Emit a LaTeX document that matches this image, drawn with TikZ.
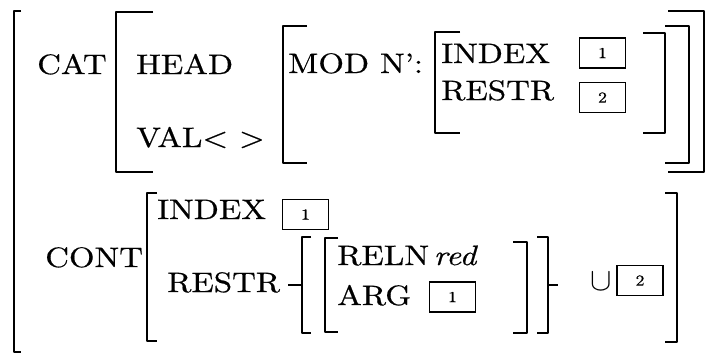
\documentclass[tikz,border=0pt]{standalone}
\usepackage{fontspec}
\setmainfont{lmroman10-regular}[Extension=.otf, ItalicFont=lmroman10-italic, FakeStretch=1.17, FakeBold=0.6]

\begin{document}
\begin{tikzpicture}[
  x=0.03cm, y=-0.03cm,
  brk/.style={line width=1.3pt, line join=round},
  lbl/.style={anchor=base west, inner sep=0pt, font=\fontsize{24}{28}\selectfont},
  tag/.style={draw, line width=1.1pt, minimum width=1.38cm, minimum height=0.9cm, inner sep=0pt, font=\fontsize{13}{15}\selectfont}
]
\useasboundingbox (0,0) rectangle (707,360);

\node[lbl] (cat) at (37,74) {CAT};
\node[lbl] (head) at (136,74) {HEAD};
\node[lbl] (val) at (136,147) {VAL< >};
\node[lbl] (mod) at (288,73) {MOD N':};
\node[lbl] (modidx) at (441,63) {INDEX};
\node[lbl] (modres) at (441,100) {RESTR};
\node[tag] (tagA) at (602.5,53) {1};
\node[tag] (tagB) at (602.5,97.5) {2};

\node[lbl] (cont) at (45,267) {CONT};
\node[lbl] (idx) at (157,219) {INDEX};
\node[tag] (tagC) at (305.5,214.5) {1};
\node[lbl] (res) at (167,292) {RESTR};
\node[lbl] (reln) at (337,265) {RELN\,\textit{red}};
\node[lbl] (arg) at (337,305) {ARG};
\node[tag] (tagD) at (452.5,297) {1};
\node[lbl, anchor=center] (union) at (601,282) {\scalebox{1.1}{$\cup$}};
\node[tag] (tagE) at (640,280.5) {2};

\draw[brk] (21,11) -- (14,11) -- (14,352) -- (21,352);
\draw[brk] (668,11) -- (704,11) -- (704,172) -- (668,172);
\draw[brk] (153,12) -- (116,12) -- (116,172) -- (153,172);
\draw[brk] (665,26) -- (689,26) -- (689,163) -- (665,163);
\draw[brk] (307,26) -- (283,26) -- (283,163) -- (307,163);
\draw[brk] (460,32) -- (435,32) -- (435,133) -- (460,133);
\draw[brk] (643,33) -- (665,33) -- (665,133) -- (643,133);

\draw[brk] (157,193) -- (147,193) -- (147,341) -- (157,341);
\draw[brk] (665,193) -- (677,193) -- (677,342) -- (665,342);
\draw[brk] (311,237) -- (302,237) -- (302,333) -- (311,333);
\draw[brk] (288,285) -- (302,285);
\draw[brk] (338,238) -- (325,238) -- (325,332) -- (338,332);
\draw[brk] (513,242) -- (527,242) -- (527,333) -- (513,333);
\draw[brk] (537,237) -- (548,237) -- (548,333) -- (537,333);
\draw[brk] (548,285) -- (558,285);
\end{tikzpicture}
\end{document}
